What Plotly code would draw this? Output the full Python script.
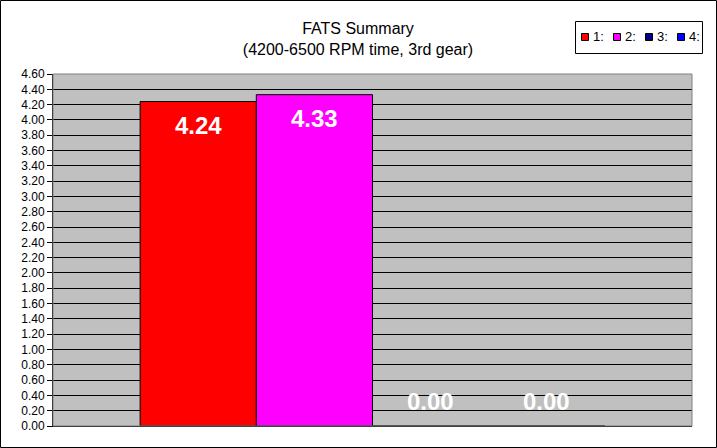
#!/usr/bin/env python3
"""
FATS summary bar chart (Excel style look)
"""

import plotly.graph_objects as go

# data
series_names = ["1:", "2:", "3:", "4:"]
fats_values = [4.24, 4.33, 0.00, 0.00]
bar_colors = ["#FF0000", "#FF00FF", "#000080", "#0000FF"]
y_tick_values = [round(i * 0.2, 2) for i in range(24)]
y_tick_labels = ["%.2f" % v for v in y_tick_values]

W, H = 717, 448
L, R, T, B = 53, 25, 74, 22
pw, ph = W - L - R, H - T - B
FONT = "Arial, Liberation Sans, sans-serif"


def px_x(p):
    # pixel -> paper x
    return (p - L) / pw


def px_y(p):
    # pixel (from top) -> paper y
    return (T + ph - p) / ph


fig = go.Figure()

for i, (name, val, col) in enumerate(zip(series_names, fats_values, bar_colors)):
    fig.add_trace(go.Bar(
        x=[i],
        y=[val],
        name=name,
        width=1,
        marker=dict(color=col, line=dict(color="black", width=1)),
        hoverinfo="y",
    ))
    # value label: inside near top, zero bars get it just above the baseline
    fig.add_annotation(
        x=i, y=val, xref="x", yref="y",
        text="<b>%.2f</b>" % val,
        showarrow=False,
        yshift=-24 if val > 0 else 25,
        font=dict(family=FONT, size=24, color="white"),
    )

# outer chart frame
fig.add_shape(
    type="rect", xref="paper", yref="paper",
    x0=px_x(0.5), x1=px_x(W - 0.5), y0=px_y(H - 0.5), y1=px_y(0.5),
    line=dict(color="black", width=1),
)
# plot area border (gray top/right)
fig.add_shape(
    type="rect", xref="paper", yref="paper",
    x0=0, x1=1, y0=0, y1=1,
    line=dict(color="#808080", width=1), layer="above",
)

# legend box drawn by hand (Excel style, compact)
fig.add_shape(
    type="rect", xref="paper", yref="paper",
    x0=px_x(575.5), x1=px_x(702.5), y0=px_y(53.5), y1=px_y(21.5),
    line=dict(color="black", width=1), fillcolor="white",
)
for i, (name, col) in enumerate(zip(series_names, bar_colors)):
    sx = 581 + i * 32
    fig.add_shape(
        type="rect", xref="paper", yref="paper",
        x0=px_x(sx + 0.5), x1=px_x(sx + 7.5), y0=px_y(40.5), y1=px_y(33.5),
        line=dict(color="black", width=1), fillcolor=col,
    )
    fig.add_annotation(
        x=px_x(sx + 10), y=px_y(37), xref="paper", yref="paper",
        xanchor="left", yanchor="middle",
        text=name, showarrow=False,
        font=dict(family=FONT, size=13, color="black"),
    )

fig.update_layout(
    width=W, height=H,
    margin=dict(l=L, r=R, t=T, b=B),
    paper_bgcolor="white",
    plot_bgcolor="#C0C0C0",
    barmode="overlay",
    font=dict(family=FONT, size=12, color="black"),
    title=dict(
        text="FATS Summary<br>(4200-6500 RPM time, 3rd gear)",
        x=px_x(358), xref="paper", xanchor="center",
        y=1 - 34 / H, yref="container", yanchor="top",
        font=dict(size=16),
    ),
    showlegend=False,
    xaxis=dict(
        range=[-1.25, 4.25],
        showticklabels=False, ticks="",
        showgrid=False, zeroline=False,
        showline=True, linecolor="black", linewidth=1,
        fixedrange=True,
    ),
    yaxis=dict(
        range=[0, 4.6],
        tickvals=y_tick_values, ticktext=y_tick_labels,
        ticks="outside", ticklen=5, tickcolor="black",
        showgrid=True, gridcolor="black", gridwidth=1,
        zeroline=False,
        showline=True, linecolor="black", linewidth=1,
        tickfont=dict(size=12),
        fixedrange=True,
    ),
    hovermode="closest",
)

# page body has a default 8px margin, drop it so the chart fills the window
fig.write_html(
    "out.html",
    config={"displayModeBar": False},
    post_script="document.body.style.margin='0';document.body.style.overflow='hidden';",
)
